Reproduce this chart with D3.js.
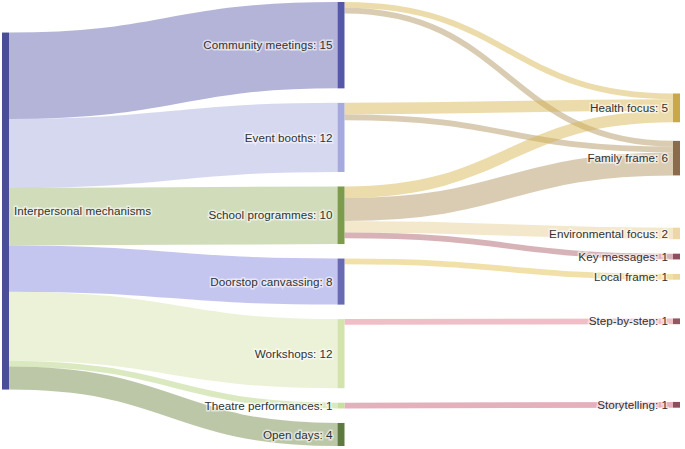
<!DOCTYPE html>
<html>
<head>
<meta charset="utf-8">
<script src="https://cdn.jsdelivr.net/npm/d3@7"></script>
<style>
  body { margin: 0; background: #fff; }
  svg { display: block; font-family: "Liberation Sans", Arial, sans-serif; }
</style>
</head>
<body>
<div id="chart"></div>
<script>
// --- data ---
const nodeNames = [
    'Interpersonal mechanisms',
    'Community meetings', 'Event booths', 'School programmes', 'Doorstop canvassing',
    'Workshops', 'Theatre performances', 'Open days',
    'Health focus', 'Family frame', 'Environmental focus', 'Key messages',
    'Local frame', 'Step-by-step', 'Storytelling'
];
const linkSources = [
    'Interpersonal mechanisms', 'Interpersonal mechanisms', 'Interpersonal mechanisms',
    'Interpersonal mechanisms', 'Interpersonal mechanisms', 'Interpersonal mechanisms',
    'Interpersonal mechanisms',
    'Community meetings', 'Community meetings', 'Event booths', 'Event booths',
    'School programmes', 'School programmes', 'School programmes', 'School programmes',
    'Doorstop canvassing', 'Workshops', 'Theatre performances'
];
const linkTargets = [
    'Community meetings', 'Event booths', 'School programmes', 'Doorstop canvassing',
    'Workshops', 'Theatre performances', 'Open days',
    'Health focus', 'Family frame', 'Health focus', 'Family frame',
    'Health focus', 'Family frame', 'Environmental focus', 'Key messages',
    'Local frame', 'Step-by-step', 'Storytelling'
];
const linkValues = [15, 12, 10, 8, 12, 1, 4, 1, 1, 2, 1, 2, 4, 2, 1, 1, 1, 1];
const unlabelledValues = ['Interpersonal mechanisms'];

// --- styles ---
const nodeColor = {
    'Interpersonal mechanisms': '#4a4e98',
    'Community meetings': '#5558a8',
    'Event booths': '#a6a9de',
    'School programmes': '#7c9c4b',
    'Doorstop canvassing': '#686ab3',
    'Workshops': '#d2e3ac',
    'Theatre performances': '#c9e09a',
    'Open days': '#5e7b3f',
    'Health focus': '#c8a847',
    'Family frame': '#8a6b4c',
    'Environmental focus': '#edd7a7',
    'Key messages': '#8f4e5c',
    'Local frame': '#ead79c',
    'Step-by-step': '#93585f',
    'Storytelling': '#8f4e5c'
};
// flows are tinted by the node they run into
const flowColor = {
    'Community meetings': '#5659a8',
    'Event booths': '#a5a8de',
    'School programmes': '#99b168',
    'Doorstop canvassing': '#7e80de',
    'Workshops': '#d3e2a8',
    'Theatre performances': '#afce73',
    'Open days': '#6a833e',
    'Health focus': '#d5b144',
    'Family frame': '#ab8e54',
    'Environmental focus': '#e4cc8b',
    'Key messages': '#a65661',
    'Local frame': '#e0ba3e',
    'Step-by-step': '#de6f80',
    'Storytelling': '#c14f68'
};

const width = 685, height = 449;
const extent = { x0: 2, y0: 2, x1: 680, y1: 446 };
const nodeWidth = 7;
const nodePadding = 14.5;
const iterations = 6;

// --- graph ---
const nodes = nodeNames.map((name, i) => ({ index: i, name, sourceLinks: [], targetLinks: [] }));
const byName = new Map(nodes.map(n => [n.name, n]));
const links = linkValues.map((value, i) => ({
    index: i,
    source: byName.get(linkSources[i]),
    target: byName.get(linkTargets[i]),
    value
}));
links.forEach(l => { l.source.sourceLinks.push(l); l.target.targetLinks.push(l); });
nodes.forEach(n => {
    n.value = Math.max(d3.sum(n.sourceLinks, l => l.value), d3.sum(n.targetLinks, l => l.value));
});

// depth (left aligned)
nodes.forEach(n => n.depth = 0);
let changed = true;
while (changed) {
    changed = false;
    links.forEach(l => {
        if (l.target.depth < l.source.depth + 1) { l.target.depth = l.source.depth + 1; changed = true; }
    });
}
const maxDepth = d3.max(nodes, n => n.depth);
const xScale = d3.scaleLinear().domain([0, maxDepth]).range([extent.x0, extent.x1 - nodeWidth]);
nodes.forEach(n => { n.x0 = xScale(n.depth); n.x1 = n.x0 + nodeWidth; });

const columns = d3.groups(nodes, n => n.depth).sort((a, b) => a[0] - b[0]).map(d => d[1]);
const py = nodePadding;
const ky = d3.min(columns, c => (extent.y1 - extent.y0 - (c.length - 1) * py) / d3.sum(c, n => n.value));
const yValue = d3.scaleLinear().domain([0, 1]).range([0, ky]);

const ascBreadth = (a, b) => a.y0 - b.y0;
const ascSourceBreadth = (a, b) => ascBreadth(a.source, b.source) || a.index - b.index;
const ascTargetBreadth = (a, b) => ascBreadth(a.target, b.target) || a.index - b.index;

function reorderLinks(col) {
    col.forEach(n => { n.sourceLinks.sort(ascTargetBreadth); n.targetLinks.sort(ascSourceBreadth); });
}
function reorderNodeLinks(node) {
    node.targetLinks.forEach(l => l.source.sourceLinks.sort(ascTargetBreadth));
    node.sourceLinks.forEach(l => l.target.targetLinks.sort(ascSourceBreadth));
}

// initial stacking
columns.forEach(col => {
    let y = extent.y0;
    col.forEach(n => {
        n.y0 = y;
        n.y1 = y + yValue(n.value);
        y = n.y1 + py;
        n.sourceLinks.forEach(l => l.width = yValue(l.value));
    });
    const spread = (extent.y1 - y + py) / (col.length + 1);
    col.forEach((n, i) => { n.y0 += spread * (i + 1); n.y1 += spread * (i + 1); });
    reorderLinks(col);
});

function targetTop(source, target) {
    let y = source.y0 - (source.sourceLinks.length - 1) * py / 2;
    for (const l of source.sourceLinks) { if (l.target === target) break; y += l.width + py; }
    for (const l of target.targetLinks) { if (l.source === source) break; y -= l.width; }
    return y;
}
function sourceTop(source, target) {
    let y = target.y0 - (target.targetLinks.length - 1) * py / 2;
    for (const l of target.targetLinks) { if (l.source === source) break; y += l.width + py; }
    for (const l of source.sourceLinks) { if (l.target === target) break; y -= l.width; }
    return y;
}

function collideDown(col, y, i, alpha) {
    for (; i < col.length; ++i) {
        const n = col[i];
        const dy = (y - n.y0) * alpha;
        if (dy > 1e-6) { n.y0 += dy; n.y1 += dy; }
        y = n.y1 + py;
    }
}
function collideUp(col, y, i, alpha) {
    for (; i >= 0; --i) {
        const n = col[i];
        const dy = (n.y1 - y) * alpha;
        if (dy > 1e-6) { n.y0 -= dy; n.y1 -= dy; }
        y = n.y0 - py;
    }
}
function resolveCollisions(col, alpha) {
    const i = col.length >> 1;
    const subject = col[i];
    collideUp(col, subject.y0 - py, i - 1, alpha);
    collideDown(col, subject.y1 + py, i + 1, alpha);
    collideUp(col, extent.y1, col.length - 1, alpha);
    collideDown(col, extent.y0, 0, alpha);
}

for (let it = 0; it < iterations; ++it) {
    const alpha = Math.pow(0.99, it);
    const beta = Math.max(1 - alpha, (it + 1) / iterations);
    // right to left
    for (let c = columns.length - 2; c >= 0; --c) {
        const col = columns[c];
        col.forEach(source => {
            let y = 0, w = 0;
            source.sourceLinks.forEach(l => {
                const v = l.value * (l.target.depth - source.depth);
                y += sourceTop(source, l.target) * v;
                w += v;
            });
            if (!(w > 0)) return;
            const dy = (y / w - source.y0) * alpha;
            source.y0 += dy; source.y1 += dy;
            reorderNodeLinks(source);
        });
        col.sort(ascBreadth);
        resolveCollisions(col, beta);
    }
    // left to right
    for (let c = 1; c < columns.length; ++c) {
        const col = columns[c];
        col.forEach(target => {
            let y = 0, w = 0;
            target.targetLinks.forEach(l => {
                const v = l.value * (target.depth - l.source.depth);
                y += targetTop(l.source, target) * v;
                w += v;
            });
            if (!(w > 0)) return;
            const dy = (y / w - target.y0) * alpha;
            target.y0 += dy; target.y1 += dy;
            reorderNodeLinks(target);
        });
        col.sort(ascBreadth);
        resolveCollisions(col, beta);
    }
}

// link breadths
nodes.forEach(n => {
    n.sourceLinks.sort(ascTargetBreadth);
    n.targetLinks.sort(ascSourceBreadth);
});
nodes.forEach(n => {
    let ys = n.y0, yt = n.y0;
    n.sourceLinks.forEach(l => { l.y0 = ys + l.width / 2; ys += l.width; });
    n.targetLinks.forEach(l => { l.y1 = yt + l.width / 2; yt += l.width; });
});

// --- draw ---
const svg = d3.select('#chart')
    .append('svg')
    .attr('width', width)
    .attr('height', height);

const linkPath = d3.linkHorizontal()
    .source(d => [d.source.x1, d.y0])
    .target(d => [d.target.x0, d.y1]);

svg.append('g')
    .attr('fill', 'none')
    .selectAll('path')
    .data(links)
    .join('path')
    .attr('d', linkPath)
    .attr('stroke', d => flowColor[d.target.name])
    .attr('stroke-opacity', 0.45)
    .attr('stroke-width', d => Math.max(1, d.width));

svg.append('g')
    .selectAll('rect')
    .data(nodes)
    .join('rect')
    .attr('x', d => d.x0)
    .attr('y', d => d.y0)
    .attr('width', d => d.x1 - d.x0)
    .attr('height', d => d.y1 - d.y0)
    .attr('fill', d => nodeColor[d.name]);

svg.append('g')
    .style('font-size', '11.7px')
    .selectAll('text')
    .data(nodes)
    .join('text')
    .attr('x', d => d.depth === 0 ? d.x1 + 5 : d.x0 - 5)
    .attr('y', d => (d.y0 + d.y1) / 2)
    .attr('dy', '0.35em')
    .attr('text-anchor', d => d.depth === 0 ? 'start' : 'end')
    .attr('fill', '#333')
    .attr('stroke', 'rgba(255,255,255,0.55)')
    .attr('stroke-width', 3)
    .attr('paint-order', 'stroke')
    .text(d => unlabelledValues.includes(d.name) ? d.name : `${d.name}: ${d.value}`);
</script>
</body>
</html>
